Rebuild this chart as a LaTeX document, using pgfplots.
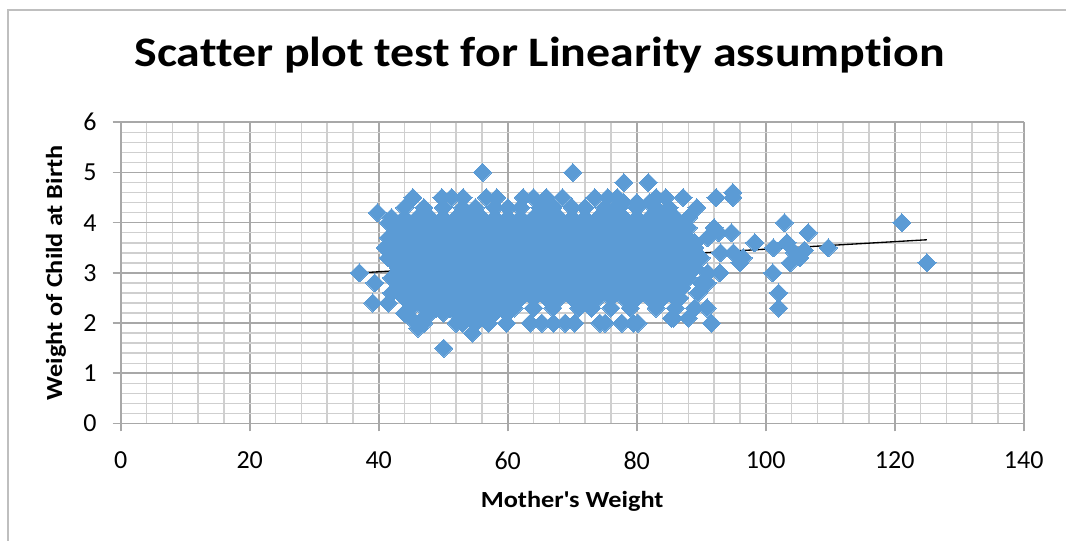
\documentclass[border=0pt]{standalone}
\usepackage{fontspec}
\setmainfont[Ligatures={TeX,NoCommon}]{Carlito}
\newfontfamily\widefont[Ligatures={TeX,NoCommon},FakeStretch=1.14]{Carlito}
\usepackage{pgfplots}
\pgfplotsset{compat=1.18}
\definecolor{ptblue}{HTML}{5B9BD5}
\definecolor{majgrid}{HTML}{A8A8A8}
\definecolor{mingrid}{HTML}{CFCFCF}
\definecolor{frame}{HTML}{BFBFBF}
\begin{document}
\begin{tikzpicture}
\useasboundingbox (0,0) rectangle (799.5pt,405.75pt);
\draw[frame, line width=1pt] (6pt,-5pt) -- (6pt,398.25pt) -- (805pt,398.25pt);
\begin{axis}[
  at={(90.525pt,88.125pt)}, anchor=south west,
  scale only axis, width=677.25pt, height=225.9pt,
  xmin=0, xmax=140, ymin=0, ymax=6,
  xtick={0,20,...,140}, ytick={0,1,...,6},
  minor x tick num=4, minor y tick num=4,
  grid=both,
  major grid style={majgrid, line width=1.2pt},
  minor grid style={mingrid, line width=1.1pt},
  axis lines*=left,
  axis line style={majgrid, line width=1.2pt, -},
  tick align=outside,
  major tick length=6pt, minor tick length=0pt,
  tick style={majgrid, line width=1.2pt},
  /pgf/number format/assume math mode=true,
  ticklabel style={font=\fontsize{19.5}{22}\selectfont, text=black},
  xticklabel style={yshift=-11.5pt},
  yticklabel style={xshift=-8.5pt},
  xlabel={Mother\textquotesingle s Weight},
  ylabel={Weight of Child at Birth},
  xlabel style={font=\widefont\bfseries\fontsize{17.3}{20}\selectfont, at={(axis description cs:0.5,-0.258)}, anchor=center},
  ylabel style={font=\widefont\bfseries\fontsize{17.3}{20}\selectfont, at={(axis description cs:-0.0716,0.5)}, anchor=center},
  title={Scatter plot test for Linearity assumption},
  title style={font=\widefont\bfseries\fontsize{31.5}{36}\selectfont, at={(axis description cs:0.464,1.197)}, anchor=center},
  clip=false,
]
\addplot[only marks, mark=square*, mark size=4.8pt,
  mark options={rotate=45, fill=ptblue, draw=ptblue, line width=0pt}] coordinates {
% row 4.1
(42,4.1)(44,4.1)(46,4.1)(48,4.1)(50,4.1)(52,4.1)(54,4.1)(56,4.1)(58,4.1)(60,4.1)(62,4.1)(64,4.1)(66,4.1)(68,4.1)(70,4.1)(72,4.1)(74,4.1)(76,4.1)(78,4.1)(80,4.1)(82,4.1)(84,4.1)(86,4.1)(88,4.1)
% row 3.9
(43,3.9)(45,3.9)(47,3.9)(49,3.9)(51,3.9)(53,3.9)(55,3.9)(57,3.9)(59,3.9)(61,3.9)(63,3.9)(65,3.9)(67,3.9)(69,3.9)(71,3.9)(73,3.9)(75,3.9)(77,3.9)(79,3.9)(81,3.9)(83,3.9)(85,3.9)(87,3.9)
% row 3.7
(42,3.7)(44,3.7)(46,3.7)(48,3.7)(50,3.7)(52,3.7)(54,3.7)(56,3.7)(58,3.7)(60,3.7)(62,3.7)(64,3.7)(66,3.7)(68,3.7)(70,3.7)(72,3.7)(74,3.7)(76,3.7)(78,3.7)(80,3.7)(82,3.7)(84,3.7)(86,3.7)(88,3.7)
% row 3.5
(41,3.5)(43,3.5)(45,3.5)(47,3.5)(49,3.5)(51,3.5)(53,3.5)(55,3.5)(57,3.5)(59,3.5)(61,3.5)(63,3.5)(65,3.5)(67,3.5)(69,3.5)(71,3.5)(73,3.5)(75,3.5)(77,3.5)(79,3.5)(81,3.5)(83,3.5)(85,3.5)(87,3.5)(89,3.5)
% row 3.3
(42,3.3)(44,3.3)(46,3.3)(48,3.3)(50,3.3)(52,3.3)(54,3.3)(56,3.3)(58,3.3)(60,3.3)(62,3.3)(64,3.3)(66,3.3)(68,3.3)(70,3.3)(72,3.3)(74,3.3)(76,3.3)(78,3.3)(80,3.3)(82,3.3)(84,3.3)(86,3.3)(88,3.3)
% row 3.1
(43,3.1)(45,3.1)(47,3.1)(49,3.1)(51,3.1)(53,3.1)(55,3.1)(57,3.1)(59,3.1)(61,3.1)(63,3.1)(65,3.1)(67,3.1)(69,3.1)(71,3.1)(73,3.1)(75,3.1)(77,3.1)(79,3.1)(81,3.1)(83,3.1)(85,3.1)(87,3.1)(89,3.1)
% row 2.9
(42,2.9)(44,2.9)(46,2.9)(48,2.9)(50,2.9)(52,2.9)(54,2.9)(56,2.9)(58,2.9)(60,2.9)(62,2.9)(64,2.9)(66,2.9)(68,2.9)(70,2.9)(72,2.9)(74,2.9)(76,2.9)(78,2.9)(80,2.9)(82,2.9)(84,2.9)(86,2.9)(88,2.9)
% row 2.7
(43,2.7)(45,2.7)(47,2.7)(49,2.7)(51,2.7)(53,2.7)(55,2.7)(57,2.7)(59,2.7)(61,2.7)(63,2.7)(65,2.7)(67,2.7)(69,2.7)(71,2.7)(73,2.7)(75,2.7)(77,2.7)(79,2.7)(81,2.7)(83,2.7)(85,2.7)(87,2.7)
% row 2.5
(44,2.5)(46,2.5)(48,2.5)(50,2.5)(52,2.5)(54,2.5)(56,2.5)(58,2.5)(60,2.5)(62,2.5)(64,2.5)(66,2.5)(68,2.5)(70,2.5)(72,2.5)(74,2.5)(76,2.5)(78,2.5)(80,2.5)(82,2.5)(84,2.5)(86,2.5)
% row 2.3
(45,2.3)(47,2.3)(49,2.3)(51,2.3)(53,2.3)(55,2.3)(57,2.3)(59,2.3)(61,2.3)(64,2.3)(67,2.3)(71,2.3)(73,2.3)(76,2.3)(79,2.3)(83,2.3)(86,2.3)
% row 2.1 / 2.2
(44,2.2)(48,2.2)(50,2.2)(52,2.2)(54,2.2)(56,2.2)(58,2.2)(60,2.2)(45,2.1)(47,2.1)(53,2.1)(55,2.1)(57,2.1)
% row 2.0
(47,2.0)(52,2.0)(53,2.0)(55,2.0)(57,2.0)(59.8,2.0)(63.5,2.0)(65.3,2.0)(67.1,2.0)(68.9,2.0)(70.4,2.0)(74.3,2.0)(75.1,2.0)(77.7,2.0)(79.5,2.0)(80.2,2.0)(85.7,2.1)(91.6,2.0)
(46.1,1.9)(54.5,1.8)(50.1,1.5)
% top
(44,4.3)(47,4.3)(50,4.3)(53,4.3)(55,4.3)(58,4.3)(60,4.3)(62,4.3)(65,4.3)(67,4.3)(70,4.3)(72,4.3)(75,4.3)(77,4.3)(80,4.3)(83,4.3)(85,4.3)
(78,4.4)(80,4.4)(82,4.4)
(45.3,4.5)(49.8,4.5)(51.3,4.5)(53.1,4.5)(56.7,4.5)(58.3,4.5)(62.4,4.5)(64,4.5)(66,4.5)(68.5,4.5)(73.5,4.5)(75.5,4.5)(77,4.5)(83,4.5)(84.5,4.5)(87.2,4.5)(92.3,4.5)(94.9,4.6)(94.9,4.5)
(56.1,5.0)(70.1,5.0)(78,4.8)(81.8,4.8)(89.3,4.3)
% left edge
(37,3.0)(39.4,2.8)(39.8,4.2)(39.1,2.4)(41.5,2.4)(42,2.6)(41.5,3.3)(41.5,3.7)(41.5,4.0)
% right part
(89,3.6)(90,3.3)(91,3.7)(93,3.4)(95,3.4)(96.5,3.3)(89.5,2.6)(91,3.0)(92,3.9)(88,3.9)(90,2.8)
(96,3.2)(94.7,3.8)(92.7,3.8)(92.9,3.0)(90.9,2.8)(90.9,2.3)(89,2.3)(86.7,2.5)(85.4,2.1)(83.3,2.5)(87.7,3.0)(88,2.1)
(98.3,3.6)(101.2,3.5)(103.3,3.6)(105.3,3.3)(103.8,3.2)(104.5,3.4)(106,3.45)(101.1,3.0)(102,2.6)(102,2.3)
(102.9,4.0)(106.6,3.8)(109.7,3.5)(121.1,4.0)(125,3.2)
};
\addplot[black, line width=1pt] coordinates {(37,3.0) (125,3.66)};
\end{axis}
\end{tikzpicture}
\end{document}
